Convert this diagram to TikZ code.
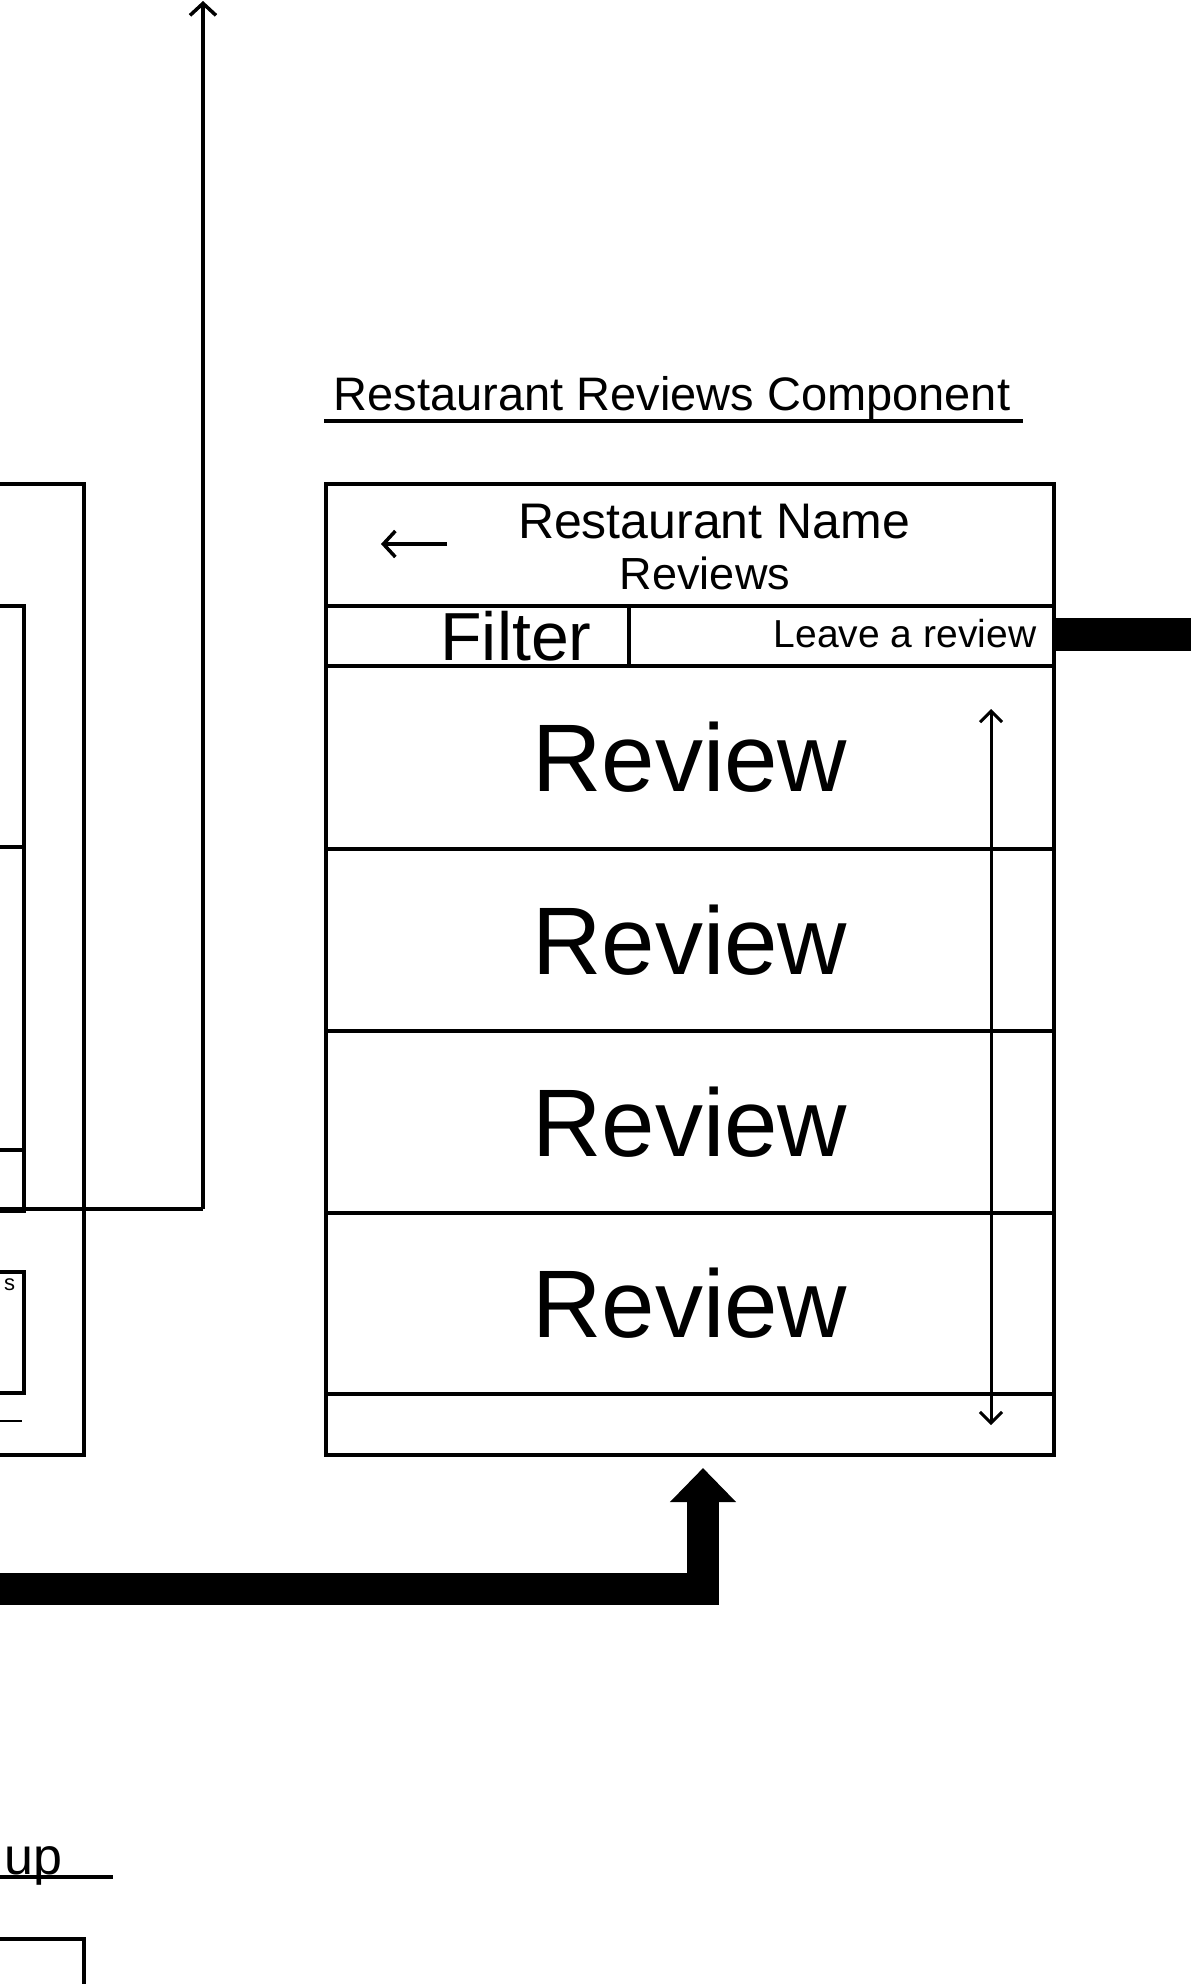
\documentclass[tikz,border=0pt]{standalone}
\usepackage{fontspec}
\setmainfont{Liberation Sans}
\usetikzlibrary{arrows.meta}
\begin{document}
\begin{tikzpicture}[x=1pt,y=-1pt,line width=3.5pt,
  box/.style={draw,line width=3.5pt,inner sep=0pt,anchor=north west},
  hand/.style={inner sep=0pt,font=\fontsize{#1}{#1}\selectfont},
  barb/.style={-{Straight Barb[length=12pt,width=26pt]}},
  dbarb/.style={{Straight Barb[length=11pt,width=22pt]}-{Straight Barb[length=11pt,width=22pt]}},
  thick arrow/.style={line width=32pt,line join=miter,-{Triangle[length=34pt,width=64pt]}}]
\fill[white] (0,0) rectangle (1191,1984);
\useasboundingbox (0,0) rectangle (1191,1984);

% ---- title ----
\node[hand=47,anchor=base] (title) at (672,410) {Restaurant Reviews Component};
\coordinate (ulA) at (324,421);
\coordinate (ulB) at (1023,421);
\draw[line width=4pt] (ulA) -- (ulB);

% ---- main component ----
\node[box,minimum width=728pt,minimum height=971pt] (main) at (324,482) {};
\node[box,minimum width=728pt,minimum height=122pt] (header) at (324,482) {};
\node[box,minimum width=303pt,minimum height=60pt] (filter) at (324,604) {};
\node[box,minimum width=425pt,minimum height=60pt] (leave) at (627,604) {};
\node[box,minimum width=728pt,minimum height=183pt,hand=96] (r1) at (324,664) {Review};
\node[box,minimum width=728pt,minimum height=182pt,hand=96] (r2) at (324,847) {Review};
\node[box,minimum width=728pt,minimum height=182pt,hand=96] (r3) at (324,1029) {Review};
\node[box,minimum width=728pt,minimum height=181pt,hand=96] (r4) at (324,1211) {Review};

\node[hand=50] (rname) at (714,522) {Restaurant Name};
\node[hand=45] (rrev) at (705,573) {Reviews};
\coordinate (backA) at (447,544);
\coordinate (backB) at (381,544);
\draw[barb] (backA) -- (backB);

\node[hand=68] (filtertxt) at (516,636) {Filter};
\node[hand=39,anchor=east] (leavetxt) at (1038,634) {Leave a review};

\coordinate (scrollA) at (991,709);
\coordinate (scrollB) at (991,1425);
\draw[dbarb,line width=3pt] (scrollA) -- (scrollB);

% thick bar to the right
\coordinate (rightend) at (1195,634);
\draw[line width=33pt] (leave.east |- 0,634) -- (rightend);

% ---- left partial screen ----
\node[box,minimum width=100pt,minimum height=971pt] (leftouter) at (-18,482) {};
\node[box,minimum width=40pt,minimum height=605pt] (leftinner) at (-18,604) {};
\coordinate (d1a) at (-18,847);  \coordinate (d1b) at (22,847);
\coordinate (d2a) at (-18,1150); \coordinate (d2b) at (22,1150);
\draw (d1a) -- (d1b);
\draw (d2a) -- (d2b);
\node[box,minimum width=40pt,minimum height=121pt] (smallbox) at (-18,1270) {};
\node[hand=22,anchor=north east] (stext) at (17,1277) {s};
\coordinate (sl1) at (-5,1421); \coordinate (sl2) at (22,1421);
\draw[line width=2.5pt] (sl1) -- (sl2);

% horizontal line and arrow going up
\coordinate (hl) at (-5,1209);
\coordinate (corner) at (203,1209);
\coordinate (topend) at (203,1);
\draw (hl) -- (corner);
\draw[barb] (corner) -- (topend);

% thick arrow to the main box
\coordinate (thickstart) at (-20,1589);
\coordinate (thickbend) at (703,1589);
\coordinate (thicktip) at (703,1468);
\draw[thick arrow] (thickstart) -- (thickbend) -- (thicktip);

% ---- bottom-left ----
\node[hand=52,anchor=base east] (uptext) at (64,1874) {up};
\coordinate (upA) at (-5,1877); \coordinate (upB) at (113,1877);
\draw[line width=4pt] (upA) -- (upB);
\node[box,minimum width=100pt,minimum height=80pt] (bottombox) at (-18,1937) {};
\end{tikzpicture}
\end{document}
